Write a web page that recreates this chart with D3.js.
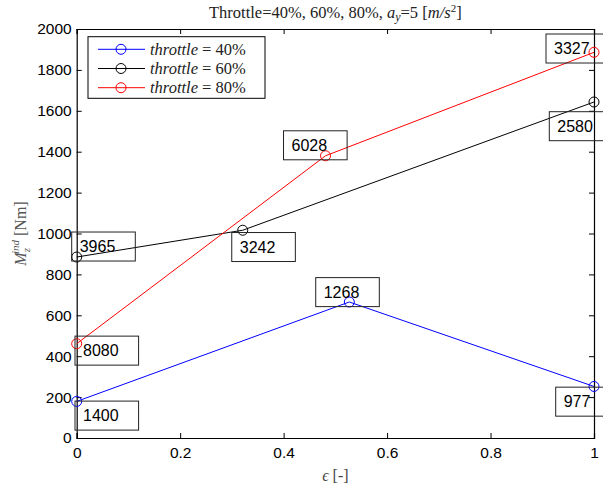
<!DOCTYPE html>
<html>
<head>
<meta charset="utf-8">
<script src="https://cdn.jsdelivr.net/npm/d3@7"></script>
<style>
  body { margin: 0; background: #fff; }
  svg { display: block; }
  .tick text { font-family: "Liberation Sans", Arial, sans-serif; font-size: 15.5px; fill: #000; }
  .serif { font-family: "Liberation Serif", "DejaVu Serif", serif; }
</style>
</head>
<body>
<div id="chart"></div>
<script>
// data
const epsilon40 = [0, 0.527, 1];
const torque40 = [179, 665, 252];
const tips40 = ["1400", "1268", "977"];

const epsilon60 = [0, 0.321, 1];
const torque60 = [885, 1016, 1643];
const tips60 = ["3965", "3242", "2580"];

const epsilon80 = [0, 0.481, 1];
const torque80 = [461, 1380, 1886];
const tips80 = ["8080", "6028", "3327"];

const seriesNames = ["40%", "60%", "80%"];
const xTicks = [0, 0.2, 0.4, 0.6, 0.8, 1];
const yTicks = [0, 200, 400, 600, 800, 1000, 1200, 1400, 1600, 1800, 2000];

// placement of the text boxes relative to their point (px)
const tipShift40 = [[-1.7, -0.3], [-33.6, -24.4], [-38.3, 0.7]];
const tipShift60 = [[-5, -25], [-11, 2.3], [-44.7, 9.7]];
const tipShift80 = [[-1.7, -7.6], [-42, -25], [-48, -18.3]];

const config = {
  width: 603, height: 489,
  margin: { top: 29, right: 9, bottom: 51, left: 76.7 },
  colors: ["#0000ff", "#000000", "#ff0000"]
};

const series = [
  { name: seriesNames[0], x: epsilon40, y: torque40, tips: tips40, shift: tipShift40, color: config.colors[0] },
  { name: seriesNames[1], x: epsilon60, y: torque60, tips: tips60, shift: tipShift60, color: config.colors[1] },
  { name: seriesNames[2], x: epsilon80, y: torque80, tips: tips80, shift: tipShift80, color: config.colors[2] }
];

const m = config.margin;
const w = config.width - m.left - m.right;
const h = config.height - m.top - m.bottom;

const svg = d3.select("#chart").append("svg")
  .attr("width", config.width)
  .attr("height", config.height);

const x = d3.scaleLinear().domain([0, 1]).range([m.left, m.left + w]);
const y = d3.scaleLinear().domain([0, 2000]).range([m.top + h, m.top]);

// axes, ticks pointing inward on all four sides
const xAxisG = svg.append("g")
  .attr("transform", `translate(0,${m.top + h})`)
  .call(d3.axisBottom(x).tickValues(xTicks).tickSize(-5).tickPadding(0)
    .tickFormat(d => d === 0 || d === 1 ? d3.format("d")(d) : d3.format(".1f")(d)));
xAxisG.selectAll(".tick text").attr("y", 20).attr("dy", null);

const topAxisG = svg.append("g")
  .attr("transform", `translate(0,${m.top})`)
  .call(d3.axisTop(x).tickValues(xTicks).tickSize(-5).tickFormat(""));

const yAxisG = svg.append("g")
  .attr("transform", `translate(${m.left},0)`)
  .call(d3.axisLeft(y).tickValues(yTicks).tickSize(-5).tickPadding(5).tickFormat(d3.format("d")));

const rightAxisG = svg.append("g")
  .attr("transform", `translate(${m.left + w},0)`)
  .call(d3.axisRight(y).tickValues(yTicks).tickSize(-5).tickFormat(""));

[xAxisG, topAxisG, yAxisG, rightAxisG].forEach(g => {
  g.select(".domain").attr("stroke", "#000").attr("stroke-width", 1.2);
  g.selectAll(".tick line").attr("stroke", "#000");
});

// lines and markers
const line = d3.line().x(d => x(d[0])).y(d => y(d[1]));
series.forEach(s => {
  const pts = s.x.map((v, i) => [v, s.y[i]]);
  svg.append("path")
    .datum(pts)
    .attr("d", line)
    .attr("fill", "none")
    .attr("stroke", s.color)
    .attr("stroke-width", 1);
  svg.selectAll(null)
    .data(pts)
    .enter()
    .append("circle")
    .attr("cx", d => x(d[0]))
    .attr("cy", d => y(d[1]))
    .attr("r", 5)
    .attr("fill", "none")
    .attr("stroke", s.color)
    .attr("stroke-width", 1);
});

// text boxes at the points
series.forEach(s => {
  s.tips.forEach((t, i) => {
    const px = x(s.x[i]) + s.shift[i][0];
    const py = y(s.y[i]) + s.shift[i][1];
    const g = svg.append("g").attr("transform", `translate(${px},${py})`);
    const txt = g.append("text")
      .attr("x", 8)
      .attr("y", 20)
      .style("font-family", "'Liberation Sans', Arial, sans-serif")
      .style("font-size", "16px")
      .text(t);
    const tw = txt.node().getComputedTextLength();
    g.insert("rect", "text")
      .attr("width", tw + 28)
      .attr("height", 29)
      .attr("fill", "none")
      .attr("stroke", "#222")
      .attr("stroke-width", 1);
  });
});

// legend
const legend = svg.append("g").attr("transform", "translate(88,36.7)");
legend.append("rect")
  .attr("width", 177).attr("height", 61.6)
  .attr("fill", "#fff").attr("stroke", "#000").attr("stroke-width", 1);
const rowY = d3.scalePoint().domain(seriesNames).range([12.6, 51]);
series.forEach(s => {
  const row = legend.append("g").attr("transform", `translate(0,${rowY(s.name)})`);
  row.append("line").attr("x1", 10).attr("x2", 57).attr("stroke", s.color);
  row.append("circle").attr("cx", 33).attr("r", 5).attr("fill", "none").attr("stroke", s.color);
  const lt = row.append("text").attr("class", "serif").attr("x", 62).attr("y", 5.5)
    .style("font-size", "16.5px").attr("fill", "#222");
  lt.append("tspan").style("font-style", "italic").text("throttle");
  lt.append("tspan").text(" = " + s.name);
});

// title, centred over the axes
const title = svg.append("text").attr("class", "serif")
  .attr("x", m.left + w / 2).attr("y", 18)
  .attr("text-anchor", "middle").style("font-size", "16.5px").attr("fill", "#222");
title.append("tspan").text("Throttle=40%, 60%, 80%, ");
title.append("tspan").style("font-style", "italic").text("a");
title.append("tspan").style("font-style", "italic").style("font-size", "12px").attr("dy", 3).text("y");
title.append("tspan").attr("dy", -3).text("=5 [");
title.append("tspan").style("font-style", "italic").text("m/s");
title.append("tspan").style("font-size", "11px").attr("dy", -6).text("2");
title.append("tspan").attr("dy", 6).text("]");

// axis labels
const xl = svg.append("text").attr("class", "serif")
  .attr("x", m.left + w / 2).attr("y", 481)
  .attr("text-anchor", "middle").style("font-size", "16px").attr("fill", "#444");
xl.append("tspan").style("font-style", "italic").text("ϵ");
xl.append("tspan").text(" [-]");

const yl = svg.append("text").attr("class", "serif")
  .attr("transform", `translate(26,${m.top + h / 2}) rotate(-90)`)
  .attr("text-anchor", "middle").style("font-size", "16px").attr("fill", "#555");
yl.append("tspan").style("font-style", "italic").text("M");
yl.append("tspan").style("font-style", "italic").style("font-size", "11px").attr("dy", 4).text("z");
yl.append("tspan").style("font-style", "italic").style("font-size", "11px").attr("dx", -6).attr("dy", -11).text("ind");
yl.append("tspan").attr("dy", 7).text(" [Nm]");
</script>
</body>
</html>
